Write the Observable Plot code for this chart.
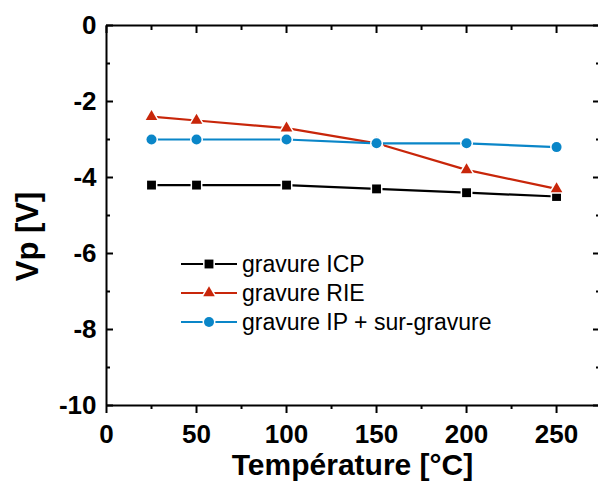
<!DOCTYPE html>
<html>
<head>
<meta charset="utf-8">
<script src="https://cdn.jsdelivr.net/npm/d3@7"></script>
<script src="https://cdn.jsdelivr.net/npm/@observablehq/plot@0.6"></script>
<style>
  html, body { margin: 0; padding: 0; background: #fff; overflow: hidden; }
  svg { display: block; }
</style>
</head>
<body>
<div id="chart"></div>
<script>
// ---- data ----
const temperatures = [25, 50, 100, 150, 200, 250];
const seriesNames = ["gravure ICP", "gravure RIE", "gravure IP + sur-gravure"];
const icpValues = [-4.2, -4.2, -4.2, -4.3, -4.4, -4.5];
const rieValues = [-2.4, -2.5, -2.7, -3.1, -3.8, -4.3];
const ipValues  = [-3.0, -3.0, -3.0, -3.1, -3.1, -3.2];
const seriesColors = ["#000000", "#c8260a", "#0a86c8"];
const seriesSymbols = ["square", "triangle", "circle"];
const seriesRadius = [5, 4.3, 5];

const xDomain = [0, 273.3];
const yDomain = [-10, 0];
const xMajor = [0, 50, 100, 150, 200, 250];
const xMinor = [25, 75, 125, 175, 225];
const yMajor = [0, -2, -4, -6, -8, -10];
const yMinor = [-1, -3, -5, -7, -9];
const xTitle = "Température [°C]";
const yTitle = "Vp [V]";

const seriesValues = [icpValues, rieValues, ipValues];
const rows = seriesNames.map((name, i) =>
  temperatures.map((t, j) => ({series: name, t, v: seriesValues[i][j]}))
);

const FONT = "'Liberation Sans', Arial, Helvetica, sans-serif";

const marks = [];
rows.forEach((data, i) => {
  marks.push(Plot.line(data, {x: "t", y: "v", stroke: seriesColors[i], strokeWidth: 2.2}));
});
rows.forEach((data, i) => {
  marks.push(Plot.dot(data, {
    x: "t", y: "v", symbol: () => seriesSymbols[i], r: seriesRadius[i],
    fill: seriesColors[i], stroke: "white", strokeWidth: 3, paintOrder: "stroke"
  }));
});

const plot = Plot.plot({
  width: 598,
  height: 482,
  marginLeft: 106,
  marginRight: 0,
  marginTop: 25,
  marginBottom: 77,
  style: {fontFamily: FONT, background: "white", color: "black"},
  x: {domain: xDomain, label: null},
  y: {domain: yDomain, label: null},
  symbol: {type: "identity"},
  marks: [
    // frame lines
    Plot.ruleY(yDomain, {strokeWidth: 2}),
    Plot.ruleX([xDomain[0]], {strokeWidth: 2}),
    // bottom axis
    Plot.axisX(xMajor, {anchor: "bottom", tickSize: 8, tickPadding: 11, strokeWidth: 2,
      fontSize: 26, fontWeight: "bold", label: null, tickFormat: d => String(d)}),
    Plot.axisX(xMinor, {anchor: "bottom", tickSize: 4, strokeWidth: 2, fill: "none", label: null}),
    // top axis (inward)
    Plot.axisX(xMajor, {anchor: "top", tickSize: 7, insetTop: 7, strokeWidth: 2, fill: "none", label: null}),
    Plot.axisX(xMinor, {anchor: "top", tickSize: 4, insetTop: 4, strokeWidth: 2, fill: "none", label: null}),
    // left axis (inward)
    Plot.axisY(yMajor, {anchor: "left", tickSize: 7, insetLeft: 7, tickPadding: 10, strokeWidth: 2,
      fontSize: 26, fontWeight: "bold", label: null, tickFormat: d => String(d)}),
    Plot.axisY(yMinor, {anchor: "left", tickSize: 4, insetLeft: 4, strokeWidth: 2, fill: "none", label: null}),
    // right axis (inward)
    Plot.axisY(yMajor, {anchor: "right", tickSize: 6, insetRight: 6, strokeWidth: 2, fill: "none", label: null}),
    Plot.axisY(yMinor, {anchor: "right", tickSize: 3, insetRight: 3, strokeWidth: 2, fill: "none", label: null}),
    // titles
    Plot.text([xTitle], {frameAnchor: "bottom", text: d => d, dy: 60, textAnchor: "middle",
      lineAnchor: "middle", fontSize: 30, fontWeight: "bold", fill: "black"}),
    Plot.text([yTitle], {frameAnchor: "left", text: d => d, rotate: -90, dx: -78, dy: 21,
      textAnchor: "middle", lineAnchor: "middle", fontSize: 31, fontWeight: "bold", fill: "black"}),
    ...marks
  ]
});

document.getElementById("chart").appendChild(plot);

// ---- legend (inside plot area) ----
const svg = d3.select(plot);
const legendX0 = 181, legendX1 = 237, legendMarkX = 209, legendTextX = 242;
const legendY0 = 264, legendStep = 29;
const symMap = {square: d3.symbolSquare, triangle: d3.symbolTriangle, circle: d3.symbolCircle};
const lg = svg.append("g").attr("font-family", FONT).attr("text-anchor", "start");
seriesNames.forEach((name, i) => {
  const y = legendY0 + i * legendStep;
  lg.append("line").attr("x1", legendX0).attr("x2", legendX1).attr("y1", y).attr("y2", y)
    .attr("stroke", seriesColors[i]).attr("stroke-width", 2.2);
  lg.append("path")
    .attr("d", d3.symbol(symMap[seriesSymbols[i]], Math.PI * seriesRadius[i] ** 2)())
    .attr("transform", `translate(${legendMarkX},${y})`)
    .attr("fill", seriesColors[i]).attr("stroke", "white").attr("stroke-width", 3)
    .attr("paint-order", "stroke");
  lg.append("text").attr("x", legendTextX).attr("y", y).attr("dy", "0.36em")
    .attr("text-anchor", "start")
    .attr("font-size", 23).attr("fill", "black").text(name);
});
</script>
</body>
</html>
